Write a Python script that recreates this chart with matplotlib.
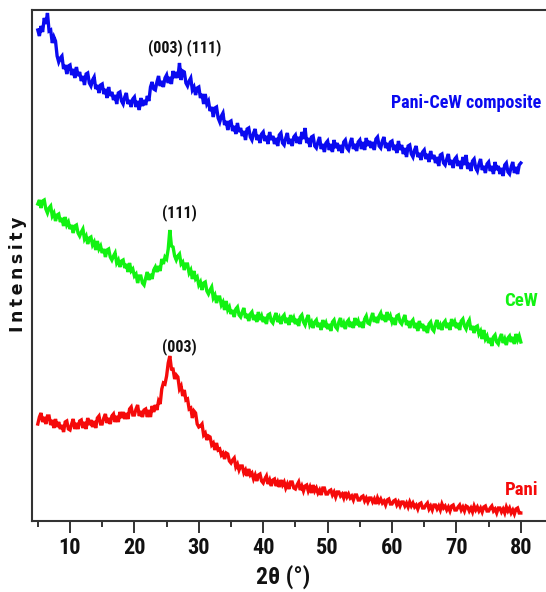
import numpy as np
import matplotlib
matplotlib.use("Agg")
import matplotlib.pyplot as plt
from matplotlib import font_manager as fm
from matplotlib.ticker import MultipleLocator

# XRD intensity (a.u., offset stacked) sampled every 0.25 deg from 2theta = 5 to 80
theta_start = 5.0
theta_step = 0.25

pani_cew = [491, 485, 495, 489, 503, 497, 508, 490, 491, 478, 484, 480, 465, 459, 463, 465, 452, 456, 447, 455,
            456, 446, 452, 443, 454, 445, 449, 440, 445, 436, 447, 448, 438, 435, 441, 444, 432, 436, 428, 436,
            437, 427, 432, 423, 434, 425, 429, 421, 426, 417, 428, 429, 420, 417, 424, 428, 417, 421, 414, 422,
            424, 414, 420, 411, 423, 415, 421, 416, 425, 420, 434, 439, 432, 431, 439, 445, 435, 440, 434, 443,
            446, 438, 444, 437, 450, 443, 449, 443, 458, 441, 450, 449, 438, 435, 440, 443, 431, 434, 426, 433,
            434, 423, 427, 417, 427, 417, 420, 410, 414, 404, 413, 414, 403, 399, 405, 408, 396, 400, 391, 399,
            400, 390, 395, 387, 398, 389, 393, 385, 390, 381, 392, 393, 384, 381, 388, 392, 381, 386, 378, 387,
            389, 380, 385, 377, 389, 381, 385, 377, 383, 375, 386, 388, 378, 376, 383, 388, 377, 382, 375, 384,
            386, 378, 384, 377, 389, 382, 393, 378, 383, 374, 384, 385, 375, 373, 379, 384, 372, 377, 369, 378,
            380, 371, 377, 369, 381, 373, 378, 370, 376, 368, 379, 381, 373, 371, 378, 383, 372, 377, 370, 379,
            381, 372, 379, 371, 383, 375, 380, 373, 379, 371, 382, 384, 375, 373, 380, 384, 373, 378, 370, 379,
            380, 371, 376, 368, 380, 371, 376, 367, 373, 364, 375, 376, 367, 364, 371, 375, 364, 368, 361, 369,
            371, 362, 367, 359, 370, 362, 366, 358, 364, 355, 366, 367, 358, 356, 362, 367, 356, 361, 353, 362,
            364, 355, 360, 352, 364, 356, 366, 352, 358, 350, 360, 362, 353, 350, 357, 362, 351, 355, 348, 357,
            359, 350, 355, 347, 359, 351, 355, 347, 353, 345, 356, 358, 349, 347, 354, 359, 348, 354, 347, 356,
            358]

cew = [317, 321, 313, 320, 321, 312, 308, 313, 315, 305, 308, 300, 306, 307, 299, 303, 295, 304, 296, 299,
       292, 296, 288, 295, 296, 288, 285, 289, 292, 282, 285, 277, 283, 284, 276, 279, 271, 280, 272, 275,
       268, 272, 264, 271, 272, 264, 261, 265, 268, 258, 261, 254, 260, 261, 253, 257, 249, 258, 250, 252,
       245, 247, 238, 245, 245, 238, 236, 243, 249, 241, 247, 242, 251, 254, 249, 255, 250, 262, 257, 264,
       262, 272, 291, 275, 274, 265, 261, 265, 267, 257, 259, 251, 257, 257, 248, 251, 242, 250, 242, 244,
       236, 239, 231, 238, 239, 230, 227, 231, 234, 223, 226, 218, 224, 224, 216, 219, 211, 220, 211, 214,
       207, 211, 204, 212, 214, 206, 204, 209, 213, 203, 207, 200, 207, 209, 201, 206, 199, 209, 201, 205,
       199, 204, 197, 206, 207, 200, 198, 204, 208, 199, 203, 197, 204, 206, 198, 203, 196, 206, 199, 203,
       197, 202, 195, 204, 206, 199, 196, 202, 206, 196, 199, 193, 199, 201, 194, 198, 191, 201, 194, 198,
       192, 197, 190, 199, 201, 194, 192, 199, 203, 194, 198, 192, 199, 201, 194, 199, 193, 203, 196, 200,
       194, 199, 193, 202, 205, 198, 197, 203, 208, 199, 204, 198, 205, 208, 201, 206, 199, 209, 201, 205,
       199, 203, 196, 205, 206, 199, 197, 202, 206, 196, 200, 193, 199, 201, 193, 198, 190, 200, 193, 197,
       190, 195, 188, 197, 199, 192, 190, 197, 201, 192, 196, 191, 198, 200, 193, 198, 191, 202, 195, 199,
       193, 198, 191, 200, 202, 195, 192, 198, 201, 191, 195, 188, 194, 195, 187, 190, 182, 191, 182, 185,
       178, 183, 175, 184, 186, 179, 177, 183, 187, 178, 182, 176, 183, 185, 179, 184, 177, 187, 181, 185,
       179]

pani = [97, 104, 108, 99, 104, 97, 105, 105, 96, 101, 93, 102, 94, 99, 92, 96, 89, 99, 100, 92,
        91, 97, 102, 92, 98, 92, 100, 101, 93, 99, 92, 103, 96, 101, 94, 100, 93, 103, 105, 97,
        97, 103, 107, 98, 103, 97, 105, 107, 99, 105, 99, 109, 103, 109, 102, 108, 102, 112, 114, 106,
        106, 112, 116, 105, 110, 104, 111, 112, 104, 111, 104, 115, 109, 116, 111, 120, 117, 132, 138, 137,
        145, 158, 165, 152, 152, 142, 146, 144, 132, 135, 125, 131, 121, 122, 112, 113, 103, 110, 108, 97,
        94, 95, 97, 86, 88, 81, 85, 84, 76, 78, 71, 78, 71, 72, 66, 68, 62, 68, 67, 60,
        58, 61, 63, 54, 57, 51, 55, 55, 48, 51, 45, 52, 46, 48, 42, 46, 40, 46, 47, 40,
        38, 42, 45, 37, 41, 35, 41, 42, 35, 39, 34, 41, 36, 39, 33, 37, 32, 39, 39, 33,
        32, 36, 39, 31, 35, 30, 35, 36, 30, 34, 28, 36, 30, 33, 28, 31, 26, 33, 33, 27,
        27, 30, 31, 26, 29, 24, 29, 29, 25, 27, 23, 29, 24, 27, 23, 25, 21, 26, 26, 21,
        21, 24, 25, 20, 23, 19, 23, 23, 19, 22, 17, 23, 19, 22, 18, 20, 16, 21, 22, 17,
        17, 20, 21, 16, 19, 15, 19, 19, 15, 18, 14, 19, 15, 18, 14, 16, 12, 17, 18, 13,
        13, 16, 18, 12, 15, 11, 16, 16, 12, 15, 11, 17, 13, 15, 11, 14, 10, 15, 16, 11,
        11, 14, 16, 11, 14, 10, 15, 14, 10, 13, 9, 15, 11, 14, 10, 13, 9, 14, 15, 10,
        10, 13, 15, 10, 12, 8, 13, 13, 9, 12, 8, 14, 10, 13, 8, 11, 7, 12, 13, 8,
        8]

series_names = ["Pani-CeW composite", "CeW", "Pani"]
series_colors = ["#0a0af0", "#12f212", "#f50a0a"]
peak_labels = ["(003) (111)", "(111)", "(003)"]
x_ticks = [10, 20, 30, 40, 50, 60, 70, 80]


def pick_condensed_bold():
    best = None
    for f in fm.fontManager.ttflist:
        name = f.name.lower()
        narrowish = ("narrow" in name or "condensed" in name or
                     str(f.stretch) in ("condensed", "semi-condensed", "extra-condensed", "ultra-condensed")
                     or (isinstance(f.stretch, (int, float)) and f.stretch < 500))
        boldish = (f.weight in ("bold", "heavy", "semibold", "demibold") or
                   (isinstance(f.weight, (int, float)) and f.weight >= 600))
        if narrowish and boldish and f.style == "normal":
            score = 0 if "liberation sans narrow" in name else (1 if "roboto" in name else 2)
            if best is None or score < best[0]:
                best = (score, f.fname)
    if best is not None:
        return fm.FontProperties(fname=best[1])
    return fm.FontProperties(family=["Roboto", "DejaVu Sans"], weight="bold")


cond = pick_condensed_bold()

W, H = 546, 592
fig = plt.figure(figsize=(W / 100, H / 100), dpi=100)
fig.patch.set_facecolor("white")
left_px, right_px, top_px, bot_px = 32, 549.8, 10, 521
ax = fig.add_axes([left_px / W, 1 - bot_px / H, (right_px - left_px) / W, (bot_px - top_px) / H])

for vals, col in zip([pani_cew, cew, pani], series_colors):
    xs = theta_start + theta_step * np.arange(len(vals))
    ax.plot(xs, vals, color=col, lw=2.4, solid_joinstyle="miter")

ax.set_xlim(4.1, 84.5)
ax.set_ylim(0, 511)
ax.set_xticks(x_ticks)
ax.xaxis.set_minor_locator(MultipleLocator(5))
ax.set_yticks([])
for s in ax.spines.values():
    s.set_linewidth(1.5)
    s.set_color("#333333")
ax.tick_params(axis="x", which="major", length=8.5, width=1.4, direction="out",
               pad=3, color="#333333")
ax.tick_params(axis="x", which="minor", length=4.3, width=1.4, direction="out", color="#333333")
for lab in ax.get_xticklabels():
    lab.set_fontproperties(cond)
    lab.set_fontsize(16)
    lab.set_color("#111111")

fig.text(283 / W, 1 - 577 / H, "2θ (°)", ha="center", va="center",
         fontproperties=cond, fontsize=17, color="#111111")
fig.text(18 / W, 1 - 274 / H, "I\u2009n\u2009t\u2009e\u2009n\u2009s\u2009i\u2009t\u2009y", rotation=90,
         ha="center", va="center", fontsize=12.5, fontweight="bold", family="DejaVu Sans",
         color="#111111")


def lab(px, py, s, col, size=11, ha="center"):
    t = fig.text(px / W, 1 - py / H, s, ha=ha, va="center", color=col, fontproperties=cond)
    t.set_fontsize(size)


lab(185, 48, peak_labels[0], "#111111", 11.5)
lab(179, 213, peak_labels[1], "#111111", 11.5)
lab(179, 347, peak_labels[2], "#111111", 11.5)
lab(541, 103, series_names[0], series_colors[0], 13, ha="right")
lab(538, 301, series_names[1], series_colors[1], 13.5, ha="right")
lab(538, 490, series_names[2], series_colors[2], 13.5, ha="right")

fig.savefig("out.png", dpi=100, facecolor="white")
